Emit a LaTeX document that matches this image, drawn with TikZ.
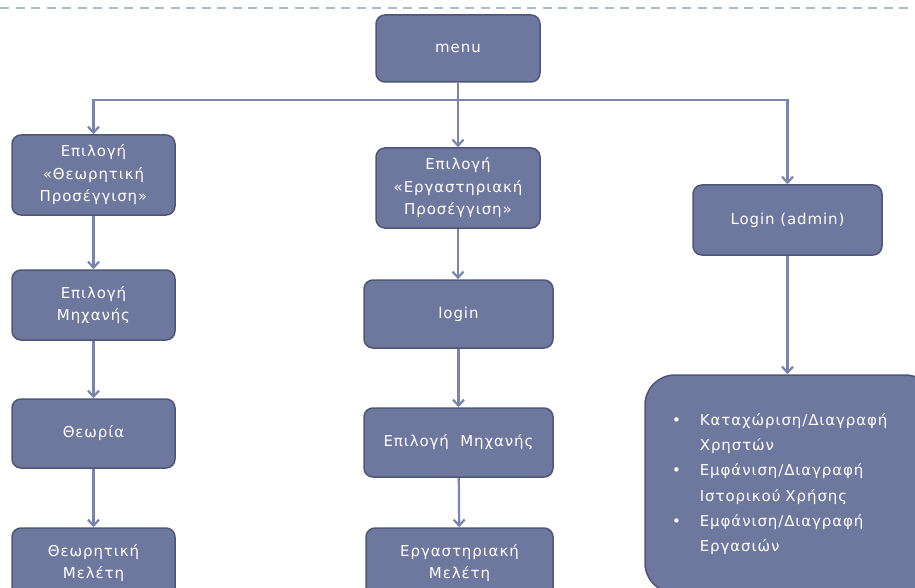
\documentclass[tikz,border=0pt]{standalone}
\usepackage{fontspec}
\setmainfont{DejaVu Sans}[LetterSpace=6]
\usetikzlibrary{arrows.meta}
\definecolor{boxfill}{HTML}{6E789E}
\definecolor{boxedge}{HTML}{4F5779}
\definecolor{linkcol}{HTML}{7A84AC}
\definecolor{sepcol}{HTML}{A9BDD1}
\tikzset{
  menubox/.style={draw=boxedge, line width=1.5pt, fill=boxfill, rounded corners=9pt,
    text=white, align=center, inner sep=2pt, font=\fontsize{15}{22.5}\selectfont},
  link/.style={draw=linkcol, line width=2.2pt, -{Straight Barb[length=6pt,width=11pt]}}
}

\begin{document}
\begin{tikzpicture}[x=1pt,y=-1pt]

    \useasboundingbox (0,0) rectangle (915,588);
    \fill[white] (0,0) rectangle (915,588);
    \clip (0,0) rectangle (915,588);

    % separator line of the page
    \draw[sepcol, line width=2.4pt, dash pattern=on 9pt off 6.5pt] (0,8) -- (915,8);

    \node[menubox, minimum width=164pt, minimum height=67pt] (menu) at (458,48.5) {menu};
    \coordinate (bus) at (458,100);

    % theory branch
    \node[menubox, minimum width=163pt, minimum height=80pt] (theo1) at (93.5,175) {Επιλογή\\«Θεωρητική\\Προσέγγιση»};
    \node[menubox, minimum width=163pt, minimum height=70pt] (theo2) at (93.5,305) {Επιλογή\\Μηχανής};
    \node[menubox, minimum width=163pt, minimum height=69pt] (theo3) at (93.5,433.5) {Θεωρία};
    \node[menubox, minimum width=163pt, minimum height=70pt] (theo4) at (93.5,563) {Θεωρητική\\Μελέτη};

    % lab branch
    \node[menubox, minimum width=164pt, minimum height=80pt] (lab1) at (458,188) {Επιλογή\\«Εργαστηριακή\\Προσέγγιση»};
    \node[menubox, minimum width=189pt, minimum height=68pt] (lab2) at (458.5,314) {login};
    \node[menubox, minimum width=189pt, minimum height=69pt] (lab3) at (458.5,442.5) {Επιλογή\ \ Μηχανής};
    \node[menubox, minimum width=187pt, minimum height=70pt] (lab4) at (459.5,563) {Εργαστηριακή\\Μελέτη};

    % admin branch
    \node[menubox, minimum width=189pt, minimum height=70pt] (admin) at (787.5,220) {Login (admin)};
    \node[menubox, rounded corners=30pt, minimum width=290pt, minimum height=218pt,
      text width=236pt, align=left, font=\fontsize{15}{25.2}\selectfont] (tasks) at (790,484)
      {\textbullet\hspace{19pt}Καταχώριση/Διαγραφή\\
       \hphantom{\textbullet}\hspace{19pt}Χρηστών\\
       \textbullet\hspace{19pt}Εμφάνιση/Διαγραφή\\
       \hphantom{\textbullet}\hspace{19pt}Ιστορικού Χρήσης\\
       \textbullet\hspace{19pt}Εμφάνιση/Διαγραφή\\
       \hphantom{\textbullet}\hspace{19pt}Εργασιών};

    \draw[link] (menu.south) -- (lab1.north);
    \draw[link] (menu.south |- bus) -| (theo1.north);
    \draw[link] (menu.south |- bus) -| (admin.north);

    \draw[link] (theo1) -- (theo2);
    \draw[link] (theo2) -- (theo3);
    \draw[link] (theo3) -- (theo4);

    \draw[link] (lab1) -- (lab1 |- lab2.north);
    \draw[link] (lab2) -- (lab3);
    \draw[link] (lab3) -- (lab4);

    \draw[link] (admin) -- (admin |- tasks.north);

\end{tikzpicture}
\end{document}
